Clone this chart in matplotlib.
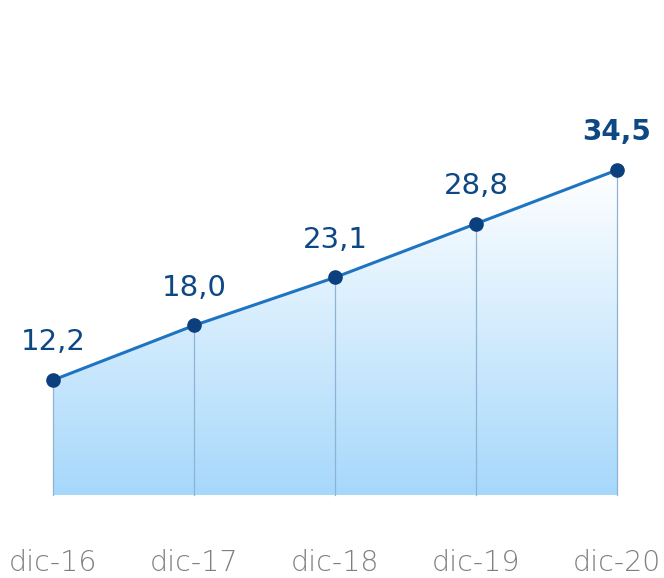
import numpy as np
import matplotlib.pyplot as plt
from matplotlib.patches import Polygon
from matplotlib.colors import LinearSegmentedColormap

plt.rcParams['font.family'] = ['DejaVu Sans']

periods = ['dic-16', 'dic-17', 'dic-18', 'dic-19', 'dic-20']
values = [12.2, 18.0, 23.1, 28.8, 34.5]
labels = ['12,2', '18,0', '23,1', '28,8', '34,5']

x = np.arange(len(values))
y = np.array(values)

fig = plt.figure(figsize=(6.64, 5.78), dpi=100)
ax = fig.add_axes([0, 0, 1, 1])
ax.set_xlim(-0.376, 4.333)
ax.set_ylim(-8.81, 52.55)
ax.axis('off')

# gradient area under the line
grad = LinearSegmentedColormap.from_list('g', ['#a6d8fb', '#ffffff'])
img = ax.imshow(np.linspace(0, 1, 256).reshape(-1, 1), cmap=grad, origin='lower',
                extent=[x[0], x[-1], 0, y.max()], aspect='auto', zorder=1)
poly = Polygon(list(zip(x, y)) + [(x[-1], 0), (x[0], 0)], closed=True,
               facecolor='none', edgecolor='none')
ax.add_patch(poly)
img.set_clip_path(poly)

# vertical guides
for xi, yi in zip(x, y):
    ax.plot([xi, xi], [0, yi], color='#8fb3d6', lw=0.9, zorder=2)

ax.plot(x, y, color='#1f74c2', lw=2.2, zorder=3)
ax.plot(x, y, 'o', color='#0b3f7e', ms=9.5, zorder=4)

for i, (xi, yi, lab) in enumerate(zip(x, y, labels)):
    last = i == len(values) - 1
    ax.text(xi + (0.0 if last else 0), yi + 4.0, lab, ha='center', va='center',
            fontsize=21 if not last else 20, color='#0d4784',
            fontweight='bold' if last else 'normal')
    ax.text(xi, -7.2, periods[i], ha='center', va='center', fontsize=20.5,
            color='#7f7f7f', fontweight='light')

fig.savefig('out.png', dpi=100)
